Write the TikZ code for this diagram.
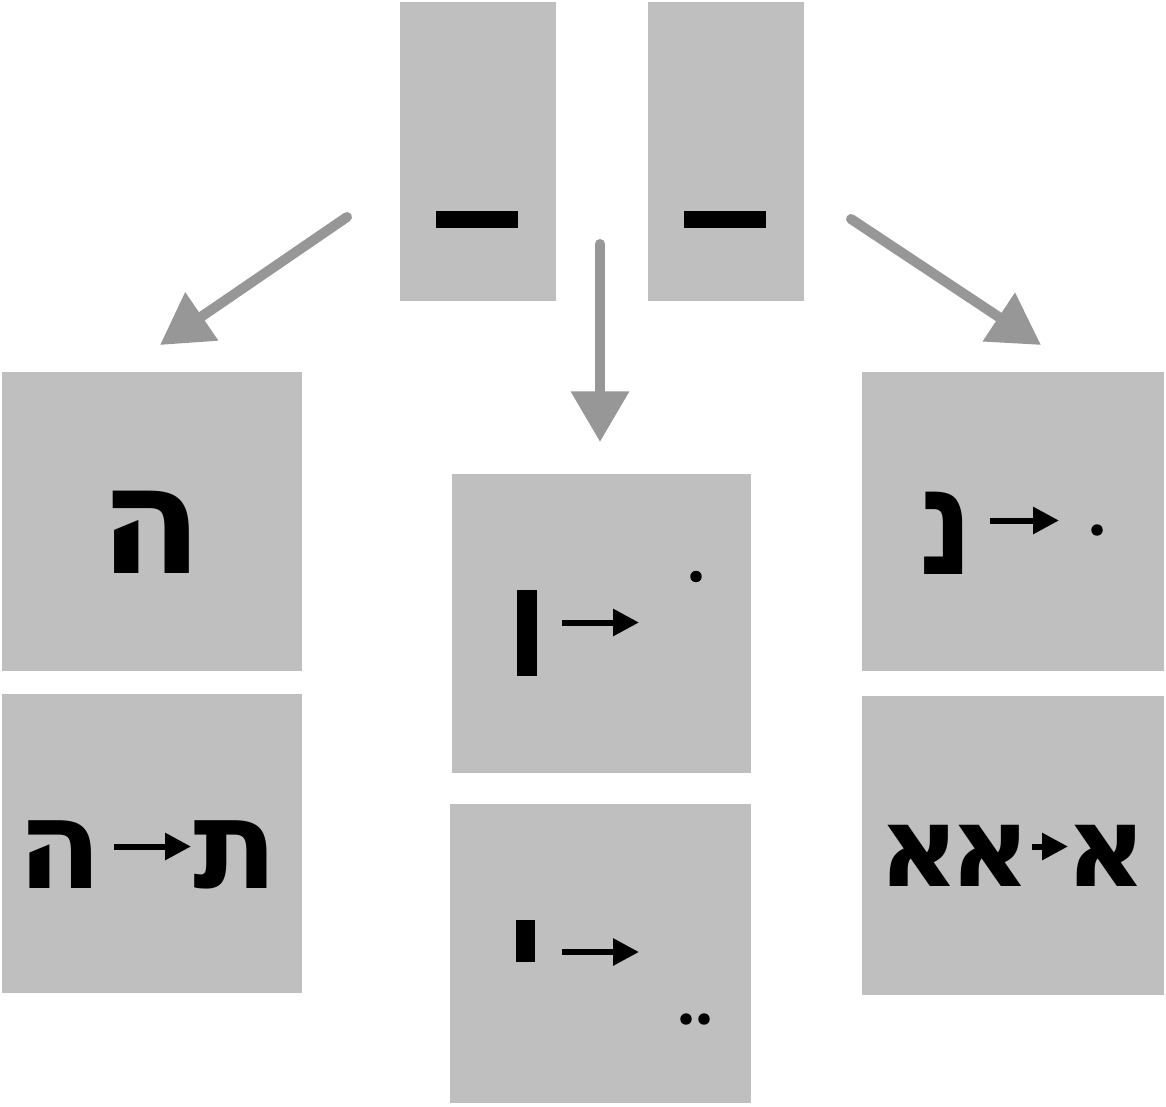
\documentclass[tikz,border=0pt]{standalone}
\usepackage{fontspec}
\usepackage{tikz}
\usetikzlibrary{arrows.meta}
\newfontfamily\hebfont[Script=Hebrew]{DejaVu Sans}
\definecolor{boxgray}{RGB}{191,191,191}
\definecolor{arrowgray}{RGB}{151,151,151}

\begin{document}
\begin{tikzpicture}[x=.75pt,y=-.75pt,line cap=round,line join=round,
    box/.style={fill=boxgray,inner sep=0pt,minimum height=224.25pt},
    letter/.style={inner sep=0pt,anchor=base,font=\hebfont\bfseries\fontsize{#1}{#1}\selectfont},
    bigarrow/.style={draw=arrowgray,line width=7.5pt,-{Triangle[length=38pt,width=42pt]}},
    tinyarrow/.style={line width=4.5pt,line cap=butt,-{Triangle[length=19.5pt,width=19.5pt]}}]
    \useasboundingbox[fill=white] (0,0) rectangle (1166,1106);
    \node[box,minimum width=117pt] (t1) at (478,151.5) {};
    \node[box,minimum width=117pt] (t2) at (726,151.5) {};
    \node[box,minimum width=225pt] (l1) at (152,521.5) {};
    \node[box,minimum width=225pt] (l2) at (152,843.5) {};
    \node[box,minimum width=224.25pt] (m1) at (601.5,623.5) {};
    \node[box,minimum width=225.75pt] (m2) at (600.5,953.5) {};
    \node[box,minimum width=226.5pt] (r1) at (1013,521.5) {};
    \node[box,minimum width=226.5pt] (r2) at (1013,845.5) {};
    \fill (436,211) rectangle (518,228);
    \fill (684,211) rectangle (766,228);
    \coordinate (fromL) at (347,217);
    \coordinate (toL) at (160,345);
    \coordinate (fromM) at (600,244);
    \coordinate (toM) at (600,442);
    \coordinate (fromR) at (851,219);
    \coordinate (toR) at (1041,345);
    \draw[bigarrow] (fromL) -- (toL);
    \draw[bigarrow] (fromM) -- (toM);
    \draw[bigarrow] (fromR) -- (toR);
    \node[letter=113pt] (he1) at (151,573) {ה};
    \node[letter=93pt] (he2) at (60,888) {ה};
    \node[letter=93pt] (tav) at (236,888) {ת};
    \coordinate (l2a) at (114,846.5);
    \coordinate (l2b) at (191,846.5);
    \draw[tinyarrow] (l2a) -- (l2b);
    \fill (517,590) rectangle (537,676);
    \coordinate (m1a) at (562,622.5);
    \coordinate (m1b) at (639,622.5);
    \draw[tinyarrow] (m1a) -- (m1b);
    \fill (696,576.5) circle (4.3pt);
    \fill (516,920) rectangle (535,962);
    \coordinate (m2a) at (562,952);
    \coordinate (m2b) at (639,952);
    \draw[tinyarrow] (m2a) -- (m2b);
    \fill (686,1019) circle (4.3pt);
    \fill (704,1019) circle (4.3pt);
    \node[letter=113pt,xscale=.79,transform shape] (nun) at (946.5,574) {נ};
    \coordinate (r1a) at (990,520.5);
    \coordinate (r1b) at (1059,520.5);
    \draw[tinyarrow] (r1a) -- (r1b);
    \fill (1097,530) circle (4.3pt);
    \node[letter=84pt] (alef1) at (919.5,886) {א};
    \node[letter=84pt] (alef2) at (990.5,886) {א};
    \node[letter=84pt] (alef3) at (1106,886) {א};
    \coordinate (r2a) at (1032,846.5);
    \coordinate (r2b) at (1068,846.5);
    \draw[tinyarrow] (r2a) -- (r2b);
  \end{tikzpicture}
\end{document}
